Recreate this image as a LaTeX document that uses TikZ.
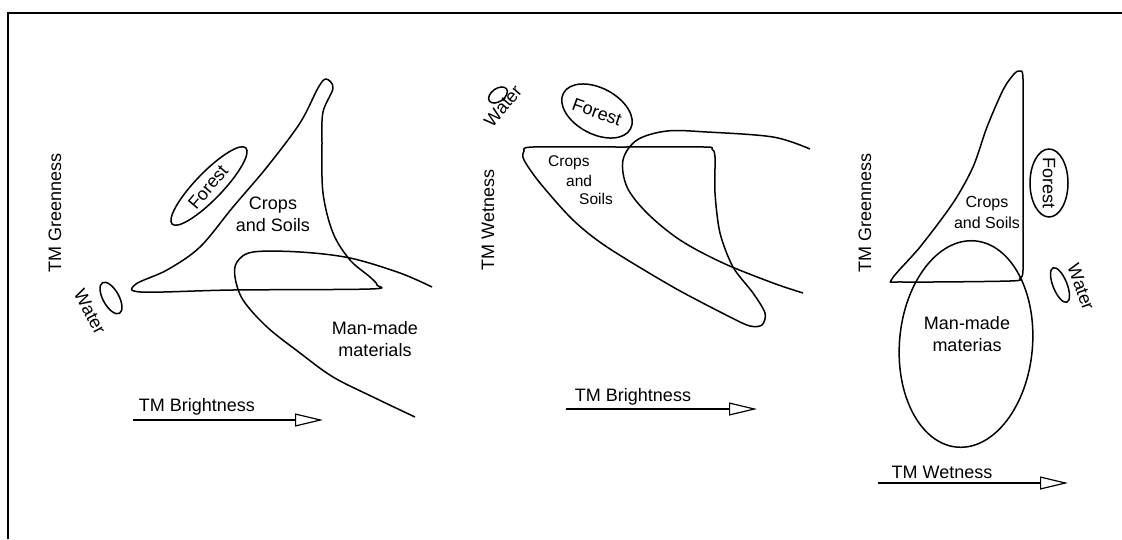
\documentclass[tikz,border=0pt]{standalone}
\usepackage{fontspec}
\setmainfont{Liberation Sans}
\usetikzlibrary{arrows.meta,shapes.geometric}
\begin{document}
\begin{tikzpicture}[x=1pt,y=-1pt,
  region/.style={line width=1.5pt, line join=round},
  blob/.style={draw, ellipse, line width=1.5pt, inner sep=0pt},
  lbl/.style={font=\fontsize{18}{22}\selectfont, align=center, inner sep=0pt},
  slbl/.style={font=\fontsize{15.5}{21}\selectfont, align=center, inner sep=0pt},
  axisarrow/.style={line width=1.2pt, -{Triangle[open, length=28pt, width=13pt]}}]
\useasboundingbox (0,0) rectangle (1122,539);
\coordinate (fb) at (8,539);
\coordinate (fc) at (8,13);
\coordinate (fr) at (1122,13);
\draw[line width=2.8pt] (fb) -- (fc) -- (fr);

% ---------- Panel 1 ----------
\draw[region] plot[smooth cycle, tension=0.55] coordinates {
  (136,284) (167,270) (200,247) (233,207) (267,167) (300,123) (318,88)
  (326,79) (333,88) (323,112) (322,143) (323,193) (333,233) (350,260)
  (370,277) (377,285) (370,289) (233,290) (141,292)};
\draw[region] plot[smooth, tension=0.55] coordinates {
  (432,287) (400,273) (350,258) (300,252) (253,252) (237,262) (235,277)
  (243,300) (267,327) (300,353) (333,377) (373,397) (415,417)};
\node[blob, minimum width=106pt, minimum height=27pt, rotate=46] (p1forest) at (209,186) {};
\node[lbl, rotate=50] (p1forestt) at (208,187) {Forest};
\node[blob, minimum width=35pt, minimum height=16pt, rotate=-61] (p1water) at (111,298) {};
\node[lbl, rotate=-62] (p1watert) at (90,312) {Water};
\node[lbl, rotate=90] (p1y) at (55,213) {TM Greenness};
\node[lbl] (p1crops) at (273,214) {Crops\\and Soils};
\node[lbl] (p1man) at (375,339) {Man-made\\materials};
\node[lbl] (p1x) at (197,407) {TM Brightness};
\coordinate (p1as) at (133,420);
\coordinate (p1ae) at (323,420);
\draw[axisarrow] (p1as) -- (p1ae);

% ---------- Panel 2 ----------
\draw[region] plot[smooth cycle, tension=0.5] coordinates {
  (524,151) (533,147) (620,147) (704,147) (712,149) (715,157) (715,193) (720,233)
  (733,267) (753,293) (765,313) (762,325) (750,326) (730,317) (673,287)
  (607,247) (573,220) (540,183) (524,160)};
\draw[region] plot[smooth, tension=0.55] coordinates {
  (810,149) (773,137) (707,132) (667,131) (637,140) (623,160) (627,187)
  (647,213) (680,240) (723,263) (773,283) (803,293)};
\node[blob, minimum width=21pt, minimum height=13pt, rotate=35] (p2water) at (498,95) {};
\node[lbl, rotate=50] (p2watert) at (503,106) {Water};
\node[blob, minimum width=76pt, minimum height=46pt, rotate=-28] (p2forest) at (597,111) {};
\node[lbl, rotate=-20] (p2forestt) at (597,112) {Forest};
\node[slbl, anchor=west] (p2c1) at (548,163) {Crops};
\node[slbl, anchor=west] (p2c2) at (566,181) {and};
\node[slbl, anchor=west] (p2c3) at (579,199) {Soils};
\node[lbl, rotate=90] (p2y) at (488,220) {TM Wetness};
\node[lbl] (p2x) at (633,397) {TM Brightness};
\coordinate (p2as) at (566,409);
\coordinate (p2ae) at (757,409);
\draw[axisarrow] (p2as) -- (p2ae);

% ---------- Panel 3 ----------
\draw[region] plot[smooth cycle, tension=0.5] coordinates {
  (892,279) (920,247) (953,203) (973,167) (987,127) (1003,90) (1014,74)
  (1020,71) (1023,79) (1023,150) (1023,220) (1023,270) (1020,278)
  (1010,281) (903,282)};
\node[blob, minimum width=133pt, minimum height=207pt, rotate=-5] (p3man) at (966,344) {};
\node[lbl] (p3mant) at (967,334) {Man-made\\materias};
\node[slbl, font=\fontsize{16}{21}\selectfont] (p3crops) at (987,212) {Crops\\and Soils};
\node[blob, minimum width=38pt, minimum height=68pt] (p3forest) at (1049,183) {};
\node[lbl, rotate=-90] (p3forestt) at (1049,183) {Forest};
\node[blob, minimum width=14pt, minimum height=37pt, rotate=22] (p3water) at (1060,285) {};
\node[lbl, rotate=-70] (p3watert) at (1081,287) {Water};
\node[lbl, rotate=90] (p3y) at (865,213) {TM Greenness};
\node[lbl] (p3x) at (942,472) {TM Wetness};
\coordinate (p3as) at (878,483);
\coordinate (p3ae) at (1068,483);
\draw[axisarrow] (p3as) -- (p3ae);
\end{tikzpicture}
\end{document}
